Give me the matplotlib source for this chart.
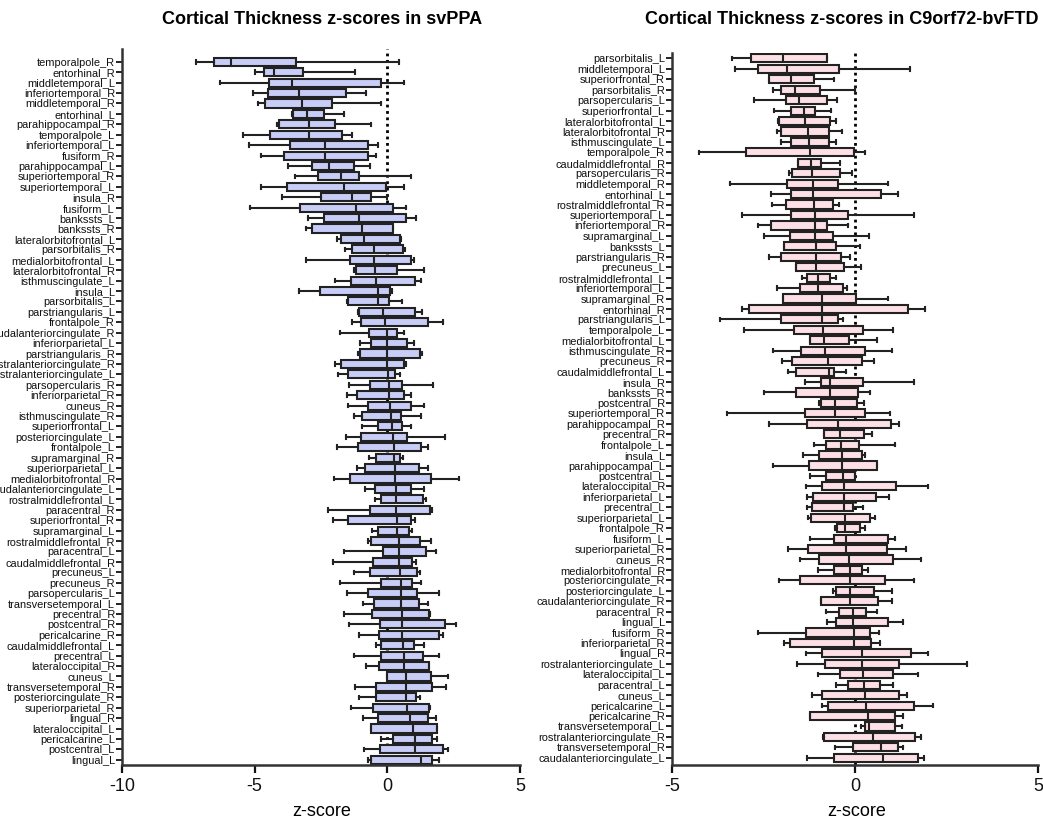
import matplotlib
matplotlib.use("Agg")
import matplotlib.pyplot as plt

plt.rcParams['font.family'] = ['Liberation Sans', 'DejaVu Sans']

# ---------------- svPPA ----------------
regions_svppa = [
    "temporalpole_R", "entorhinal_R", "middletemporal_L", "inferiortemporal_R", "middletemporal_R",
    "entorhinal_L", "parahippocampal_R", "temporalpole_L", "inferiortemporal_L", "fusiform_R",
    "parahippocampal_L", "superiortemporal_R", "superiortemporal_L", "insula_R", "fusiform_L",
    "bankssts_L", "bankssts_R", "lateralorbitofrontal_L", "parsorbitalis_R", "medialorbitofrontal_L",
    "lateralorbitofrontal_R", "isthmuscingulate_L", "insula_L", "parsorbitalis_L", "parstriangularis_L",
    "frontalpole_R", "caudalanteriorcingulate_R", "inferiorparietal_L", "parstriangularis_R",
    "rostralanteriorcingulate_R", "rostralanteriorcingulate_L", "parsopercularis_R", "inferiorparietal_R",
    "cuneus_R", "isthmuscingulate_R", "superiorfrontal_L", "posteriorcingulate_L", "frontalpole_L",
    "supramarginal_R", "superiorparietal_L", "medialorbitofrontal_R", "caudalanteriorcingulate_L",
    "rostralmiddlefrontal_L", "paracentral_R", "superiorfrontal_R", "supramarginal_L",
    "rostralmiddlefrontal_R", "paracentral_L", "caudalmiddlefrontal_R", "precuneus_L", "precuneus_R",
    "parsopercularis_L", "transversetemporal_L", "precentral_R", "postcentral_R", "pericalcarine_R",
    "caudalmiddlefrontal_L", "precentral_L", "lateraloccipital_R", "cuneus_L", "transversetemporal_R",
    "posteriorcingulate_R", "superiorparietal_R", "lingual_R", "lateraloccipital_L", "pericalcarine_L",
    "postcentral_L", "lingual_L",
]
svppa_min = [-7.22, -4.99, -6.29, -5.06, -4.87, -3.58, -4.14, -5.43, -5.22, -4.76,
             -3.76, -3.48, -4.76, -3.96, -5.16, -2.99, -3.07, -1.91, -1.59, -3.07,
             -1.27, -1.96, -3.34, -1.52, -1.11, -1.33, -1.79, -1.03, -1.12, -1.97,
             -1.86, -1.45, -1.51, -1.50, -1.27, -0.94, -1.55, -1.91, -0.70, -1.14,
             -2.02, -0.84, -0.47, -2.25, -2.05, -0.58, -0.72, -1.63, -2.05, -1.27,
             -1.79, -1.51, -0.91, -1.64, -1.44, -1.08, -0.43, -1.26, -0.80, -0.01,
             -1.23, -1.08, -1.37, -0.90, -0.60, -0.23, -0.88, -0.72]
svppa_q1 = [-6.52, -4.64, -4.47, -4.50, -4.60, -3.57, -4.10, -4.41, -3.65, -3.88,
            -2.85, -2.63, -3.80, -2.50, -3.29, -2.39, -2.85, -1.74, -1.33, -1.41,
            -1.18, -1.36, -2.53, -1.49, -1.07, -0.98, -0.70, -0.61, -1.02, -1.73,
            -1.50, -0.66, -1.16, -0.72, -0.97, -0.36, -0.98, -1.11, -0.43, -0.84,
            -1.42, -0.48, -0.25, -0.66, -1.47, -0.37, -0.61, -0.17, -0.55, -0.67,
            -0.25, -0.74, -0.51, -0.57, -0.28, -0.30, -0.22, -0.24, -0.32, -0.01,
            -0.44, -0.44, -0.53, -0.37, -0.60, 0.22, -0.29, -0.61]
svppa_med = [-5.88, -4.29, -3.60, -3.33, -3.23, -3.02, -2.97, -2.95, -2.36, -2.34,
             -2.21, -1.75, -1.65, -1.32, -1.19, -1.05, -0.97, -0.89, -0.52, -0.51,
             -0.47, -0.43, -0.36, -0.34, -0.15, -0.08, -0.03, -0.03, 0.00, 0.00,
             0.03, 0.05, 0.06, 0.10, 0.13, 0.18, 0.22, 0.25, 0.25, 0.28,
             0.29, 0.32, 0.33, 0.33, 0.37, 0.37, 0.44, 0.44, 0.44, 0.46,
             0.50, 0.51, 0.51, 0.55, 0.56, 0.57, 0.60, 0.61, 0.64, 0.69,
             0.69, 0.72, 0.76, 0.85, 0.95, 1.05, 1.05, 1.27]
svppa_q3 = [-3.46, -3.19, -0.23, -1.55, -2.07, -2.38, -1.96, -1.72, -0.72, -0.72,
            -1.27, -1.05, -0.04, -0.62, 0.22, 0.69, 0.22, 0.46, 0.60, 0.90,
            0.37, 1.05, 0.10, 0.08, 1.03, 1.55, 0.38, 0.74, 1.23, 0.61,
            0.29, 0.57, 0.64, 0.88, 0.51, 0.57, 0.76, 1.27, 0.46, 1.18,
            1.63, 0.88, 1.33, 1.59, 0.90, 0.83, 1.23, 1.45, 0.93, 1.11,
            0.94, 1.12, 1.21, 1.56, 2.16, 1.93, 1.00, 1.33, 1.56, 1.65,
            1.68, 1.08, 1.56, 1.55, 1.86, 1.68, 2.11, 1.70]
svppa_max = [0.43, -1.21, 0.61, -0.79, -0.22, -1.64, -0.60, -1.33, -0.37, -0.41,
             -0.65, 0.91, 0.61, -0.03, 0.70, 1.08, 0.22, 0.53, 0.66, 1.02,
             1.40, 1.26, 0.19, 0.57, 1.32, 2.08, 0.61, 0.99, 1.30, 0.69,
             0.48, 1.73, 0.91, 1.40, 1.27, 0.91, 2.19, 1.52, 0.60, 1.55,
             2.69, 1.37, 1.46, 1.68, 1.05, 0.94, 1.66, 1.83, 1.08, 1.22,
             1.27, 1.93, 1.55, 1.60, 2.57, 2.08, 1.37, 1.94, 1.56, 2.27,
             2.21, 1.22, 1.59, 1.83, 1.89, 1.87, 2.29, 1.96]

# ---------------- C9orf72-bvFTD ----------------
regions_c9 = [
    "parsorbitalis_L", "middletemporal_L", "superiorfrontal_R", "parsorbitalis_R", "parsopercularis_L",
    "superiorfrontal_L", "lateralorbitofrontal_L", "lateralorbitofrontal_R", "isthmuscingulate_L",
    "temporalpole_R", "caudalmiddlefrontal_R", "parsopercularis_R", "middletemporal_R", "entorhinal_L",
    "rostralmiddlefrontal_R", "superiortemporal_L", "inferiortemporal_R", "supramarginal_L", "bankssts_L",
    "parstriangularis_R", "precuneus_L", "rostralmiddlefrontal_L", "inferiortemporal_L", "supramarginal_R",
    "entorhinal_R", "parstriangularis_L", "temporalpole_L", "medialorbitofrontal_L", "isthmuscingulate_R",
    "precuneus_R", "caudalmiddlefrontal_L", "insula_R", "bankssts_R", "postcentral_R",
    "superiortemporal_R", "parahippocampal_R", "precentral_R", "frontalpole_L", "insula_L",
    "parahippocampal_L", "postcentral_L", "lateraloccipital_R", "inferiorparietal_L", "precentral_L",
    "superiorparietal_L", "frontalpole_R", "fusiform_L", "superiorparietal_R", "cuneus_R",
    "medialorbitofrontal_R", "posteriorcingulate_R", "posteriorcingulate_L", "caudalanteriorcingulate_R",
    "paracentral_R", "lingual_L", "fusiform_R", "inferiorparietal_R", "lingual_R",
    "rostralanteriorcingulate_L", "lateraloccipital_L", "paracentral_L", "cuneus_L", "pericalcarine_L",
    "pericalcarine_R", "transversetemporal_L", "rostralanteriorcingulate_R", "transversetemporal_R",
    "caudalanteriorcingulate_L",
]
c9_min = [-3.36, -3.29, -2.34, -2.23, -2.76, -2.20, -2.11, -2.13, -2.01, -4.27,
          -1.57, -1.80, -3.42, -2.29, -2.28, -3.08, -2.64, -2.48, -1.93, -2.36,
          -1.62, -1.46, -2.14, -1.98, -3.08, -3.70, -3.02, -1.23, -2.23, -2.00,
          -1.82, -1.36, -2.50, -0.99, -3.49, -2.34, -0.84, -1.11, -1.43, -2.23,
          -1.23, -1.34, -1.31, -1.30, -1.28, -0.54, -1.23, -1.83, -1.51, -1.00,
          -2.07, -0.60, -0.92, -0.78, -0.77, -2.66, -1.93, -1.35, -1.58, -1.01,
          -0.52, -1.18, -0.90, -1.24, 0.16, -0.87, -0.55, -1.31]
c9_q1 = [-2.85, -2.65, -2.34, -2.03, -1.88, -1.76, -2.09, -2.03, -1.74, -2.98,
         -1.57, -1.72, -1.85, -1.76, -1.88, -1.74, -2.30, -1.78, -1.93, -2.01,
         -1.62, -1.31, -1.51, -1.98, -2.89, -2.01, -1.68, -1.23, -1.48, -1.71,
         -1.61, -0.94, -1.62, -0.94, -1.37, -1.30, -0.84, -0.78, -0.97, -1.25,
         -0.78, -0.89, -1.16, -1.17, -1.21, -0.49, -0.57, -1.28, -0.98, -0.57,
         -1.51, -0.51, -0.92, -0.43, -0.51, -1.35, -1.78, -0.90, -0.83, -0.42,
         -0.18, -0.89, -0.73, -1.22, 0.26, -0.86, -0.06, -0.58]
c9_med = [-1.98, -1.86, -1.75, -1.65, -1.53, -1.39, -1.36, -1.29, -1.27, -1.23,
          -1.19, -1.18, -1.14, -1.14, -1.13, -1.10, -1.09, -1.09, -1.07, -1.07,
          -1.06, -1.01, -1.00, -0.91, -0.90, -0.90, -0.87, -0.85, -0.81, -0.75,
          -0.70, -0.68, -0.68, -0.55, -0.54, -0.47, -0.42, -0.38, -0.36, -0.36,
          -0.33, -0.31, -0.31, -0.29, -0.26, -0.26, -0.24, -0.24, -0.16, -0.15,
          -0.15, -0.14, -0.13, -0.06, -0.05, -0.04, -0.02, 0.19, 0.20, 0.23,
          0.24, 0.26, 0.30, 0.36, 0.38, 0.50, 0.72, 0.76]
c9_q3 = [-0.77, -0.45, -1.13, -0.96, -0.76, -1.10, -0.69, -0.72, -0.71, -0.04,
         -0.93, -0.41, -0.47, 0.72, -0.59, -0.18, -0.76, -0.59, -0.52, -0.37,
         -0.30, -0.68, -0.32, 0.03, 1.44, -0.46, 0.22, -0.16, 0.28, 0.19,
         -0.57, 0.22, 0.09, 0.05, 0.27, 0.97, 0.24, 0.11, 0.20, 0.59,
         0.01, 1.11, 0.57, -0.05, 0.41, 0.13, 0.89, 0.87, 1.03, 0.19,
         0.82, 0.51, 0.62, 0.31, 0.89, 0.40, 0.45, 1.54, 1.19, 1.05,
         0.67, 1.20, 1.62, 1.10, 1.08, 1.63, 1.18, 1.71]
c9_max = [-0.77, 1.49, -0.58, 0.00, -0.49, -0.66, -0.52, -0.36, -0.51, 0.27,
          -0.41, -0.08, 0.89, 1.18, -0.45, 1.61, -0.20, 0.37, 0.13, -0.13,
          0.16, -0.51, -0.22, 0.90, 1.92, -0.34, 1.05, 0.61, 1.01, 0.52,
          -0.25, 1.62, 0.42, 0.24, 0.96, 1.19, 0.46, 1.09, 0.27, 0.59,
          0.01, 2.00, 0.93, 0.23, 0.56, 0.27, 1.08, 1.38, 1.80, 0.36,
          1.60, 1.00, 1.00, 0.60, 1.32, 0.65, 0.67, 1.99, 3.07, 1.71,
          1.05, 1.42, 2.14, 1.32, 1.28, 1.79, 1.30, 1.88]

W, H = 1043, 821
fig = plt.figure(figsize=(W / 100, H / 100), dpi=100)


def px_axes(x0, x1, ytop, ybot):
    return fig.add_axes([x0 / W, 1 - ybot / H, (x1 - x0) / W, (ybot - ytop) / H])


def draw_panel(ax, labels, lo, q1, med, q3, hi, face, xlim, xticks, ylim):
    stats = []
    for i in range(len(labels)):
        stats.append(dict(label=labels[i], whislo=lo[i], q1=q1[i], med=med[i],
                          q3=q3[i], whishi=hi[i], fliers=[]))
    pos = list(range(len(labels)))
    kw = dict(positions=pos, widths=0.78, patch_artist=True, showfliers=False,
              boxprops=dict(facecolor=face, edgecolor='#222222', linewidth=1.5),
              medianprops=dict(color='#222222', linewidth=1.5),
              whiskerprops=dict(color='#222222', linewidth=1.5),
              capprops=dict(color='#222222', linewidth=1.5),
              capwidths=0.34)
    try:
        ax.bxp(stats, orientation='horizontal', **kw)
    except TypeError:
        ax.bxp(stats, vert=False, **kw)
    ax.axvline(0, color='black', linestyle=(0, (1, 1.3)), linewidth=2.0, zorder=0)
    ax.set_xlim(*xlim)
    ax.set_ylim(*ylim)
    ax.set_xticks(xticks)
    ax.set_xticklabels([str(t) for t in xticks], fontsize=13)
    ax.set_yticks(pos)
    ax.set_yticklabels(labels, fontsize=7.9)
    for s in ['top', 'right']:
        ax.spines[s].set_visible(False)
    for s in ['left', 'bottom']:
        ax.spines[s].set_linewidth(1.8)
        ax.spines[s].set_color('#333333')
    ax.tick_params(axis='y', length=4, width=1.3, pad=1, colors='#111111')
    ax.tick_params(axis='x', length=6, width=1.6, pad=3, colors='#111111')


ax1 = px_axes(122, 520, 49, 765)
draw_panel(ax1, regions_svppa, svppa_min, svppa_q1, svppa_med, svppa_q3, svppa_max,
           '#c8cdf7', (-10, 5), [-10, -5, 0, 5], (67.5, -1.23))
ax2 = px_axes(672, 1038, 53, 765)
draw_panel(ax2, regions_c9, c9_min, c9_q1, c9_med, c9_q3, c9_max,
           '#fde0e6', (-5, 5), [-5, 0, 5], (67.69, -0.52))

fig.text(322 / W, 1 - 20 / H, "Cortical Thickness z-scores in svPPA", fontsize=13,
         fontweight='bold', ha='center', va='center')
fig.text(842 / W, 1 - 20 / H, "Cortical Thickness z-scores in C9orf72-bvFTD", fontsize=13,
         fontweight='bold', ha='center', va='center')
fig.text(322 / W, 1 - 811 / H, "z-score", fontsize=13, ha='center', va='center')
fig.text(857 / W, 1 - 811 / H, "z-score", fontsize=13, ha='center', va='center')

fig.savefig("out.png", dpi=100)
